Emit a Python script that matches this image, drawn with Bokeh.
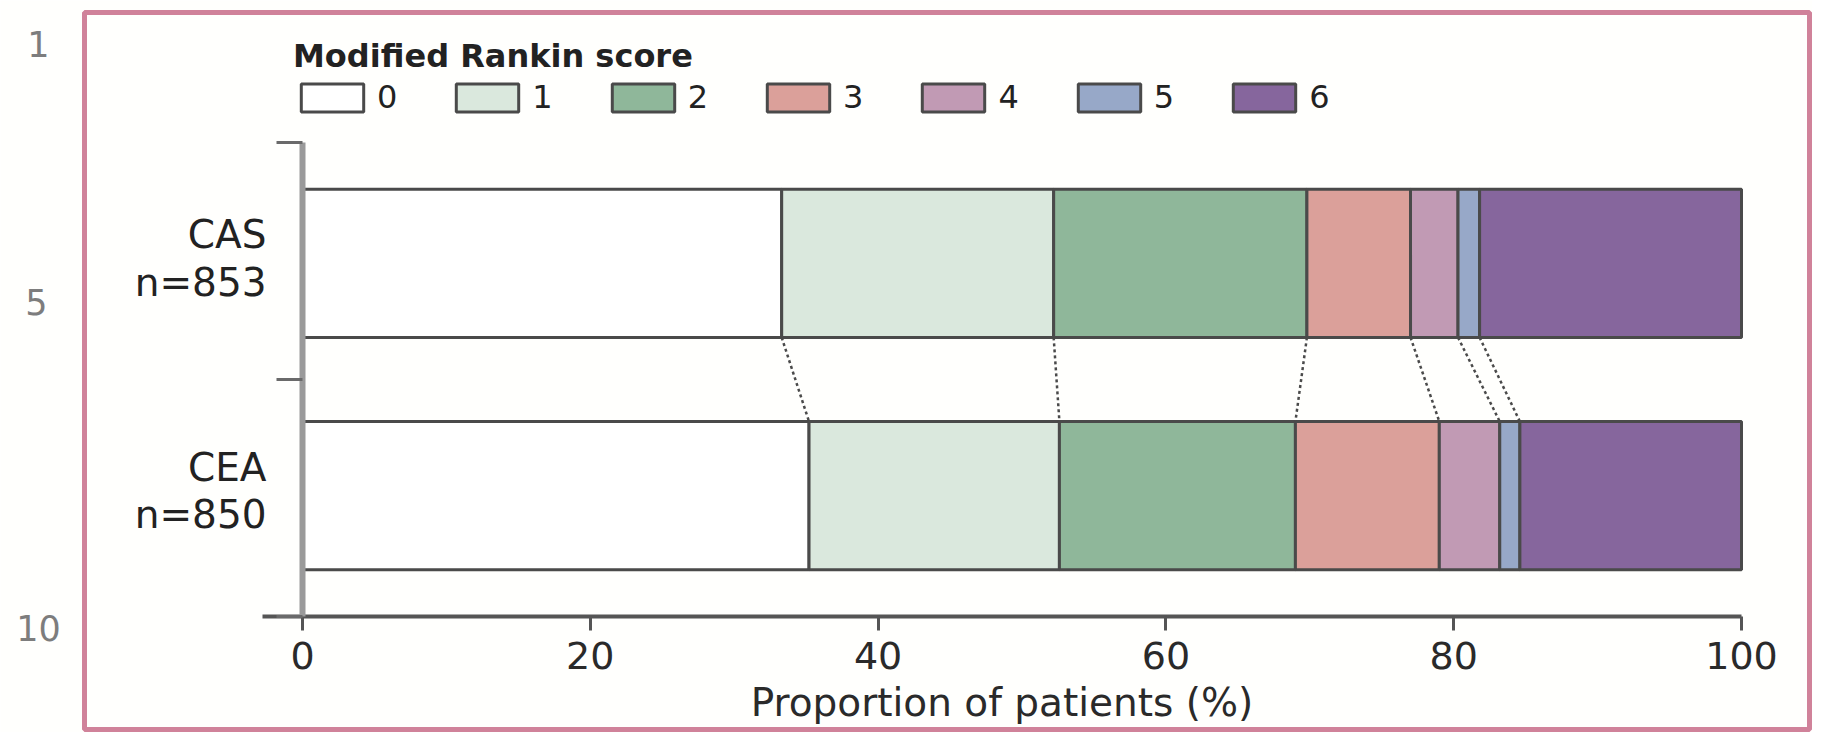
from bokeh.plotting import figure
from bokeh.models import Range1d, LinearAxis, FixedTicker, Legend, LegendItem, ColumnDataSource, BoxAnnotation
from bokeh.embed import file_html
from bokeh.resources import INLINE
from bokeh.core.properties import value

# ---- data ----
groups = ["CAS", "CEA"]
n_patients = [853, 850]
group_y = [1.49, 0.51]
scores = ["0", "1", "2", "3", "4", "5", "6"]
cas_pct = [33.3, 18.9, 17.6, 7.2, 3.3, 1.5, 18.2]
cea_pct = [35.2, 17.4, 16.4, 10.0, 4.2, 1.4, 15.4]
colors = ["#ffffff", "#dae8dd", "#8fb79a", "#dba09a", "#c19ab4", "#97a8c8", "#86669d"]
x_ticks = [0, 20, 40, 60, 80, 100]
y_ticks = [0, 1, 2]
line_numbers = ["1", "5", "10"]

BAR_H = 0.625
FONT = "DejaVu Sans"

# ---- layout (pixels) ----
W, H = 1812, 732
X0_PX, PX_PER_X = 302.0, 14.39      # pixel of x=0, pixels per unit
Y2_PX, PX_PER_Y = 142.0, 237.0      # pixel of y=2, pixels per unit

def px2x(px):
    return (px - X0_PX) / PX_PER_X

def px2y(py):
    return 2 - (py - Y2_PX) / PX_PER_Y

p = figure(width=W, height=H, output_backend="svg", toolbar_location=None,
           x_range=Range1d(px2x(0), px2x(W)), y_range=Range1d(px2y(H), px2y(0)),
           min_border_left=0, min_border_right=0, min_border_top=0, min_border_bottom=0,
           x_axis_type=None, y_axis_type=None)
p.grid.visible = False
p.background_fill_color = "#fffffd"
p.border_fill_color = "white"
p.outline_line_color = None

# pink frame around the panel
p.add_layout(BoxAnnotation(left=px2x(84), right=px2x(1809), top=px2y(12), bottom=px2y(729),
                           fill_alpha=0, line_color="#d0829a", line_alpha=1.0, line_width=5,
                           level="underlay"))

# cumulative positions
def cum(vals):
    out, s = [], 0.0
    for v in vals:
        out.append(s)
        s += v
    return out

cas_left = cum(cas_pct)
cea_left = cum(cea_pct)

renderers = []
for i, s in enumerate(scores):
    src = ColumnDataSource(dict(
        y=group_y,
        left=[cas_left[i], cea_left[i]],
        right=[cas_left[i] + cas_pct[i], cea_left[i] + cea_pct[i]],
    ))
    r = p.hbar(y="y", left="left", right="right", height=BAR_H, source=src,
               fill_color=colors[i], line_color="#4a4a4a", line_width=3)
    renderers.append(r)

# dotted connectors between cumulative boundaries
bx0 = [cas_left[i] + cas_pct[i] for i in range(len(scores) - 1)]
bx1 = [cea_left[i] + cea_pct[i] for i in range(len(scores) - 1)]
p.segment(x0=bx0, y0=[group_y[0] - BAR_H / 2] * len(bx0),
          x1=bx1, y1=[group_y[1] + BAR_H / 2] * len(bx1),
          line_color="#4a4a4a", line_width=2.5, line_dash="3 3")

# axes
xaxis = LinearAxis(fixed_location=0, bounds=(-2.8, 100), ticker=FixedTicker(ticks=x_ticks, minor_ticks=[]),
                   axis_label="Proportion of patients (%)")
xaxis.axis_line_color = "#555555"
xaxis.axis_line_width = 4
xaxis.major_tick_line_color = "#555555"
xaxis.major_tick_line_width = 3
xaxis.major_tick_out = 14
xaxis.major_tick_in = 0
xaxis.minor_tick_line_color = None
xaxis.major_label_text_font = FONT
xaxis.major_label_text_font_size = "38px"
xaxis.major_label_text_color = "#2a2a2a"
xaxis.major_label_standoff = 11
xaxis.axis_label_text_font = FONT
xaxis.axis_label_text_font_size = "39px"
xaxis.axis_label_text_font_style = "normal"
xaxis.axis_label_text_color = "#2a2a2a"
xaxis.axis_label_standoff = 8
p.add_layout(xaxis, "below")

yaxis = LinearAxis(fixed_location=0, bounds=(0, 2), ticker=FixedTicker(ticks=y_ticks, minor_ticks=[]),
                   major_label_overrides={0: "", 1: "", 2: ""})
yaxis.axis_line_color = "#9a9a9a"
yaxis.axis_line_width = 6
yaxis.major_tick_line_color = "#6a6a6a"
yaxis.major_tick_line_width = 3
yaxis.major_tick_out = 26
yaxis.major_tick_in = 0
yaxis.minor_tick_line_color = None
p.add_layout(yaxis, "left")

# category labels
p.text(x=[-2.5, -2.5], y=[yy + 0.12 for yy in group_y], text=groups,
       text_align="right", text_baseline="middle", text_font=value(FONT),
       text_font_size="39px", text_color="#222222")
p.text(x=[-2.5, -2.5], y=[yy - 0.08 for yy in group_y], text=[f"n={n}" for n in n_patients],
       text_align="right", text_baseline="middle", text_font=value(FONT),
       text_font_size="39px", text_color="#222222")

# legend
legend = Legend(items=[LegendItem(label=s, renderers=[r]) for s, r in zip(scores, renderers)],
                orientation="horizontal", location=(293, H - 116),
                title="Modified Rankin score")
legend.title_text_font = FONT
legend.title_text_font_size = "32px"
legend.title_text_font_style = "bold"
legend.title_text_color = "#222222"
legend.title_standoff = 3
legend.label_text_font = FONT
legend.label_text_font_size = "32px"
legend.label_text_color = "#222222"
legend.glyph_width = 78
legend.glyph_height = 35
legend.label_standoff = 6
legend.spacing = 51
legend.padding = 0
legend.margin = 0
legend.border_line_color = None
legend.background_fill_alpha = 0
p.add_layout(legend)

# page line numbers in the left margin
p.text(x=[px2x(38), px2x(36), px2x(38)], y=[px2y(43), px2y(301), px2y(627)], text=line_numbers,
       text_align="center", text_baseline="middle", text_font=value(FONT),
       text_font_size="35px", text_color="#7d7d7d")

open("out.html", "w").write(file_html(p, INLINE))
